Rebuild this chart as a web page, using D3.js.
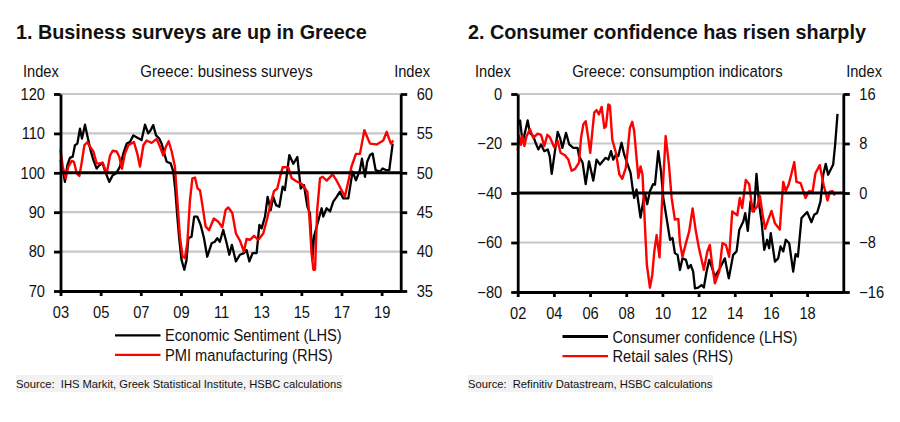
<!DOCTYPE html>
<html>
<head>
<meta charset="utf-8">
<script src="https://cdnjs.cloudflare.com/ajax/libs/d3/7.8.5/d3.min.js"></script>
<style>
html, body { margin: 0; padding: 0; background: #fff; }
svg { display: block; }
text { font-family: "Liberation Sans", Arial, sans-serif; fill: #111; }
</style>
</head>
<body>
<div id="chart"></div>
<script>
// values
var sentimentYears = [2003.0,2003.11,2003.22,2003.34,2003.47,2003.61,2003.72,2003.84,2003.97,2004.07,2004.22,2004.35,2004.5,2004.64,2004.8,2004.93,2005.1,2005.23,2005.43,2005.6,2005.76,2005.96,2006.13,2006.3,2006.46,2006.63,2006.83,2007.04,2007.21,2007.37,2007.49,2007.62,2007.76,2007.92,2008.04,2008.15,2008.29,2008.49,2008.62,2008.72,2008.82,2008.92,2009.03,2009.17,2009.28,2009.37,2009.53,2009.66,2009.81,2009.98,2010.15,2010.31,2010.53,2010.69,2010.81,2010.94,2011.11,2011.28,2011.41,2011.54,2011.74,2011.94,2012.14,2012.27,2012.41,2012.57,2012.77,2012.91,2013.02,2013.19,2013.32,2013.47,2013.6,2013.74,2013.9,2014.07,2014.18,2014.4,2014.6,2014.8,2014.97,2015.13,2015.3,2015.43,2015.55,2015.63,2015.79,2016.01,2016.09,2016.26,2016.43,2016.59,2016.76,2016.92,2017.09,2017.34,2017.55,2017.72,2017.92,2018.02,2018.17,2018.28,2018.42,2018.55,2018.7,2018.92,2019.05,2019.21,2019.38,2019.55];
var sentimentValues = [103.2,101.1,97.7,101.9,103.8,104.1,107,107.4,111.2,108.7,112.2,109.1,105.7,103.2,101.1,101.9,102.4,100.3,97.7,99.4,99.8,101.5,104.9,107.4,107.8,109.5,108.9,108.3,112.2,110,110.8,112.1,109.5,108.7,107.4,105.3,102.8,102.4,100.3,95.6,88.9,83,77.9,75.4,77.9,83.4,83.8,88.9,88.9,86.8,83.4,78.7,82.1,82.5,83.4,82.5,85.5,82.1,79.2,81.7,77.5,79.2,79.6,80.4,77.5,79.6,79.6,86.8,85.9,88.9,93.9,90.5,93.9,91.8,91.4,96.5,95.6,104.5,102.3,104,96,96.9,91.4,89.7,77.9,83.8,86.8,91,88.9,91,90.2,92.7,93.9,95.2,93.5,93.5,100.3,98.1,100.7,103.6,99,102.8,104.5,104.9,100.7,100.3,101.1,100.7,100.7,107.4];

var pmiYears = [2003.0,2003.11,2003.26,2003.39,2003.56,2003.67,2003.81,2003.94,2004.05,2004.19,2004.34,2004.47,2004.64,2004.8,2004.97,2005.1,2005.3,2005.47,2005.6,2005.8,2005.93,2006.06,2006.21,2006.38,2006.66,2006.83,2006.96,2007.13,2007.29,2007.54,2007.79,2007.96,2008.12,2008.25,2008.39,2008.54,2008.7,2008.82,2008.95,2009.08,2009.2,2009.32,2009.45,2009.57,2009.7,2009.83,2009.95,2010.08,2010.23,2010.4,2010.64,2010.86,2011.06,2011.23,2011.36,2011.56,2011.74,2011.94,2012.14,2012.27,2012.44,2012.64,2012.86,2013.1,2013.3,2013.47,2013.64,2013.8,2013.94,2014.07,2014.35,2014.52,2014.77,2015.01,2015.3,2015.4,2015.51,2015.6,2015.68,2015.79,2015.93,2016.06,2016.26,2016.56,2016.76,2016.96,2017.17,2017.34,2017.5,2017.72,2017.92,2018.14,2018.42,2018.75,2019.08,2019.25,2019.46,2019.58];
var pmiValues = [52.9,50.8,49.3,50.8,51.5,51.4,49.9,49.6,51.2,53.5,53.9,53.3,52.7,51.2,51.2,51.3,49.9,52.2,52.8,52.7,52,50.5,52.4,53.5,53.9,52.4,50.8,53.5,54.1,53.8,54.3,53.3,52.2,53.3,54,52.7,50.8,46.5,41.9,39.4,39.2,41.1,46.5,49.3,49.4,48,47.8,45.7,43.2,42.7,44.2,43.8,43.1,45.3,45.6,44.9,42.3,41.4,40,41.6,41.5,42,41.5,42.3,44.2,46.1,47.7,48,49.5,50.7,50.7,49.3,48.9,48.6,47.6,44.4,39.8,37.7,37.7,45.3,49.3,49.5,49,49.8,49,48,47,48.9,50.8,52.4,52.4,55.4,53.7,53.6,54.1,55.2,53.7,54.1];

var confidenceYears = [2002.03,2002.13,2002.22,2002.31,2002.44,2002.55,2002.68,2002.86,2002.99,2003.14,2003.29,2003.47,2003.66,2003.77,2003.88,2004.02,2004.21,2004.34,2004.47,2004.67,2004.85,2005.07,2005.31,2005.39,2005.59,2005.76,2005.94,2006.18,2006.36,2006.55,2006.86,2007.01,2007.16,2007.28,2007.43,2007.56,2007.74,2007.89,2008.02,2008.24,2008.35,2008.44,2008.57,2008.79,2008.94,2009.03,2009.16,2009.31,2009.49,2009.59,2009.77,2009.92,2010.05,2010.23,2010.42,2010.56,2010.69,2010.84,2010.97,2011.11,2011.3,2011.43,2011.57,2011.7,2011.8,2011.98,2012.16,2012.29,2012.44,2012.59,2012.75,2012.9,2013.18,2013.45,2013.67,2013.91,2014.1,2014.25,2014.47,2014.58,2014.72,2014.87,2015.06,2015.2,2015.35,2015.48,2015.63,2015.79,2015.9,2015.99,2016.22,2016.4,2016.53,2016.68,2016.82,2017.01,2017.23,2017.36,2017.49,2017.69,2018.0,2018.24,2018.39,2018.55,2018.74,2018.89,2019.03,2019.16,2019.44,2019.55,2019.68];
var confidenceValues = [-12.3,-10.7,-16.4,-18.4,-14.3,-10.7,-15.7,-17,-19.7,-22.4,-20.4,-23.1,-22.4,-25.1,-32.3,-25.1,-15.3,-17.7,-21.8,-15.7,-20.4,-21.8,-21.8,-25.1,-27.8,-36.4,-27.2,-35,-26.5,-28.5,-25.8,-26.5,-23.1,-26.5,-24.5,-25.1,-19.7,-24.5,-27.2,-31.9,-38,-42,-38.6,-49.9,-43.4,-40,-44.5,-39.3,-36.4,-36.6,-23.1,-31.2,-42,-50.1,-58.9,-58.2,-64.3,-65,-71.1,-66.4,-67,-70.4,-69.1,-71.8,-78.5,-78.2,-77.2,-78.2,-71.8,-67,-70.4,-73.8,-70.4,-66.4,-74.5,-65,-63.6,-54.9,-51.5,-48.1,-55.3,-43.4,-47.4,-32.3,-44.7,-51.5,-63,-58.9,-62.3,-56.2,-67.7,-66.4,-61.6,-63.6,-58.9,-60.3,-71.8,-64.7,-65.7,-50.1,-47.7,-51.8,-48.8,-48.1,-43.4,-32.6,-28.2,-32.6,-28.5,-20.4,-8];

var retailYears = [2002.0,2002.09,2002.18,2002.26,2002.37,2002.49,2002.68,2002.86,2003.1,2003.29,2003.47,2003.64,2003.78,2004.02,2004.21,2004.37,2004.61,2004.8,2004.98,2005.17,2005.39,2005.5,2005.63,2005.76,2005.9,2006.01,2006.23,2006.36,2006.49,2006.64,2006.79,2006.88,2007.01,2007.1,2007.23,2007.43,2007.62,2007.78,2007.98,2008.11,2008.2,2008.33,2008.44,2008.57,2008.67,2008.79,2008.9,2009.03,2009.14,2009.31,2009.44,2009.55,2009.68,2009.84,2009.99,2010.18,2010.36,2010.51,2010.69,2010.88,2010.97,2011.11,2011.3,2011.48,2011.67,2011.85,2012.02,2012.29,2012.48,2012.62,2012.75,2012.9,2013.14,2013.32,2013.51,2013.69,2013.86,2014.14,2014.28,2014.41,2014.61,2014.8,2014.98,2015.24,2015.39,2015.54,2015.68,2015.85,2016.03,2016.22,2016.49,2016.68,2016.82,2016.99,2017.14,2017.29,2017.41,2017.64,2017.91,2018.11,2018.3,2018.46,2018.7,2018.92,2019.13,2019.26,2019.4,2019.53];
var retailValues = [6.8,9.2,7.8,9.2,7.6,9.2,10.3,8.9,9.6,9.4,7.6,9.4,9,7.4,8.4,6.5,6.1,5.4,3.6,3.9,4.9,8.9,11.1,11.6,8.9,6.5,13,13.4,12.7,13.9,10.5,10.8,14.3,14.1,8.6,6.5,3,2.3,4.1,7.8,10.5,11.5,10,5.7,2.4,4.3,3,-5.1,-11.6,-15.3,-13.2,-9.5,-6.8,-10.4,-0.8,9.2,4.6,-0.8,-4.3,-4.2,-8.1,-10.3,-8.1,-6.2,-2.5,-6.2,-8.9,-12.4,-9.5,-8.4,-11.6,-14.6,-12.7,-8.1,-8.4,-10.3,-3,-3.6,-0.8,-2.4,2.1,1.4,-3,-2.2,-0.5,-3.5,-5.8,-4.3,-2.9,-4.9,-5.9,1.8,0.3,1.5,3.2,5,1.8,1.6,-0.8,0.3,0.2,3.2,4.5,1.2,-1.2,0.2,0.3,-0.4];

var leftTicks1 = [70, 80, 90, 100, 110, 120];
var rightTicks1 = [35, 40, 45, 50, 55, 60];
var yearTicks1 = [2003, 2005, 2007, 2009, 2011, 2013, 2015, 2017, 2019];

var leftTicks2 = [-80, -60, -40, -20, 0];
var rightTicks2 = [-16, -8, 0, 8, 16];
var yearTicks2 = [2002, 2004, 2006, 2008, 2010, 2012, 2014, 2016, 2018];

var svg = d3.select("#chart")
    .append("svg")
    .attr("width", 900)
    .attr("height", 422);

function zip(years, values) {
    return years.map(function (y, i) { return {year: y, value: values[i]}; });
}

// the labels in the original are a narrower cut than Liberation Sans
function squeeze(sel, k) {
    sel.each(function () {
        d3.select(this)
            .attr("textLength", this.getComputedTextLength() * k)
            .attr("lengthAdjust", "spacingAndGlyphs");
    });
}

function draw_panel(p) {
    var x = d3.scaleLinear().domain(p.xDomain).range([p.left, p.right]);
    var yL = d3.scaleLinear().domain(d3.extent(p.leftTicks)).range([p.bottom, p.top]);
    var yR = d3.scaleLinear().domain(d3.extent(p.rightTicks)).range([p.bottom, p.top]);

    // title and headers
    svg.append("text").attr("x", p.titleX).attr("y", 39)
        .style("font-size", "19.8px").style("font-weight", "bold").text(p.title);
    svg.append("text").attr("x", p.indexLeft).attr("y", 76.5)
        .style("font-size", "16.3px").text("Index").call(squeeze, 0.9);
    svg.append("text").attr("x", p.indexRight).attr("y", 76.5).attr("text-anchor", "end")
        .style("font-size", "16.3px").text("Index").call(squeeze, 0.9);
    svg.append("text").attr("x", p.subtitleX).attr("y", 76.5).attr("text-anchor", "middle")
        .style("font-size", "16.3px").text(p.subtitle).call(squeeze, 0.92);

    // grey gridlines
    svg.selectAll(null)
        .data(p.leftTicks.filter(function (d) { return d != p.zero; }))
        .enter().append("line")
        .attr("x1", p.left).attr("x2", p.right)
        .attr("y1", function (d) { return yL(d); })
        .attr("y2", function (d) { return yL(d); })
        .attr("stroke", "#c8c8c8").attr("stroke-width", 2.2);

    var lineL = d3.line().x(function (d) { return x(d.year); }).y(function (d) { return yL(d.value); });
    var lineR = d3.line().x(function (d) { return x(d.year); }).y(function (d) { return yR(d.value); });

    svg.append("path").datum(zip(p.blackYears, p.blackValues))
        .attr("d", lineL).attr("fill", "none").attr("stroke", "#000")
        .attr("stroke-width", 2.3).attr("stroke-linejoin", "round");
    svg.append("path").datum(zip(p.redYears, p.redValues))
        .attr("d", lineR).attr("fill", "none").attr("stroke", "#f00")
        .attr("stroke-width", 2.4).attr("stroke-linejoin", "round");

    // heavy reference line
    svg.append("line")
        .attr("x1", p.left).attr("x2", p.right)
        .attr("y1", yL(p.zero)).attr("y2", yL(p.zero))
        .attr("stroke", "#000").attr("stroke-width", 3);

    var axisL = d3.axisLeft(yL).tickValues(p.leftTicks).tickSize(6.5).tickPadding(9).tickSizeOuter(0);
    var axisR = d3.axisRight(yR).tickValues(p.rightTicks).tickSize(6.5).tickPadding(9.5).tickSizeOuter(0);
    var axisB = d3.axisBottom(x).tickValues(p.yearTicks).tickSize(5).tickPadding(10).tickSizeOuter(0)
        .tickFormat(function (d) { return d3.format("02d")(d % 100); });

    [
        {axis: axisL, at: "translate(" + p.left + ",0)"},
        {axis: axisR, at: "translate(" + p.right + ",0)"},
        {axis: axisB, at: "translate(0," + p.bottom + ")"}
    ].forEach(function (a) {
        var g = svg.append("g").attr("transform", a.at).call(a.axis);
        g.selectAll("path, line").attr("stroke", "#000").attr("stroke-width", 2.8);
        g.selectAll("text").style("font-size", "16.3px").style("fill", "#111").call(squeeze, 0.9);
    });

    // legend
    p.legend.forEach(function (d, i) {
        var ly = p.legendY + i * 19.6;
        svg.append("line").attr("x1", p.legendX).attr("x2", p.legendX + 45.5)
            .attr("y1", ly).attr("y2", ly)
            .attr("stroke", d.color).attr("stroke-width", d.width);
        svg.append("text").attr("x", p.legendX + 50).attr("y", ly + 6)
            .style("font-size", "16.3px").text(d.label).call(squeeze, 0.9);
    });

    // source strip
    svg.append("rect").attr("x", p.titleX).attr("y", 375).attr("width", p.sourceW).attr("height", 17)
        .attr("fill", "#f2f2f2");
    svg.append("text").attr("x", p.titleX).attr("y", 388)
        .style("font-size", "11.2px").attr("xml:space", "preserve").text(p.source);
}

draw_panel({
    title: "1. Business surveys are up in Greece",
    subtitle: "Greece: business surveys",
    titleX: 16, subtitleX: 226.5, indexLeft: 23, indexRight: 430,
    left: 60.5, right: 400.7, top: 94, bottom: 291,
    xDomain: [2003, 2019.95], zero: 100,
    leftTicks: leftTicks1, rightTicks: rightTicks1, yearTicks: yearTicks1,
    blackYears: sentimentYears, blackValues: sentimentValues,
    redYears: pmiYears, redValues: pmiValues,
    legendX: 115, legendY: 335.3,
    legend: [
        {label: "Economic Sentiment (LHS)", color: "#000", width: 2.2},
        {label: "PMI manufacturing (RHS)", color: "#f00", width: 2.2}
    ],
    source: "Source:  IHS Markit, Greek Statistical Institute, HSBC calculations",
    sourceW: 327
});

draw_panel({
    title: "2. Consumer confidence has risen sharply",
    subtitle: "Greece: consumption indicators",
    titleX: 468, subtitleX: 677.5, indexLeft: 475, indexRight: 882,
    left: 517.7, right: 843.3, top: 94, bottom: 292,
    xDomain: [2002, 2020], zero: -40,
    leftTicks: leftTicks2, rightTicks: rightTicks2, yearTicks: yearTicks2,
    blackYears: confidenceYears, blackValues: confidenceValues,
    redYears: retailYears, redValues: retailValues,
    legendX: 562.5, legendY: 336.5,
    legend: [
        {label: "Consumer confidence (LHS)", color: "#000", width: 3},
        {label: "Retail sales (RHS)", color: "#f00", width: 2.2}
    ],
    source: "Source:  Refinitiv Datastream, HSBC calculations",
    sourceW: 245
});
</script>
</body>
</html>
